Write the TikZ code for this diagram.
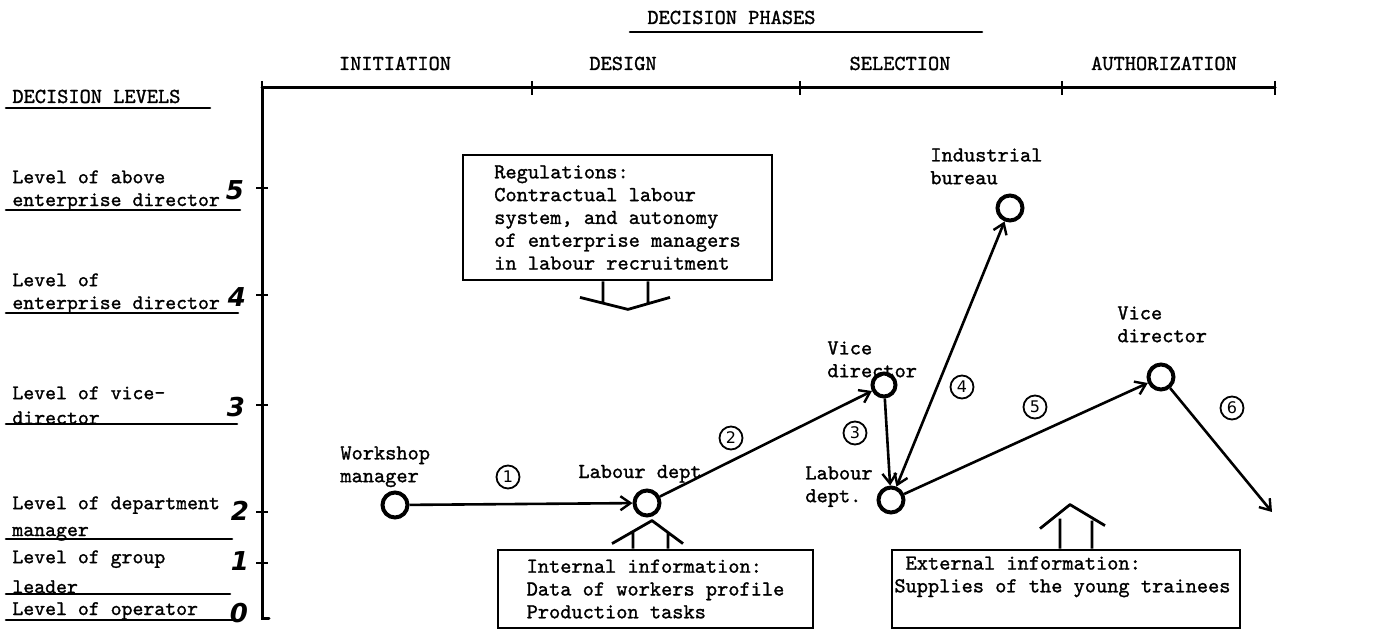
\documentclass[tikz,border=0pt]{standalone}
\usepackage{fontspec}
\usetikzlibrary{arrows.meta,calc}
\newfontfamily\typewfam{Latin Modern Mono}[FakeBold=1.2]
\newfontfamily\handfam{DejaVu Sans}
\newcommand\typew{\typewfam\fontsize{10.67}{11.4}\selectfont}
\newcommand\levelfont{\typewfam\fontsize{10.4}{11.4}\selectfont}

\begin{document}
\begin{tikzpicture}[x=0.5pt,y=-0.5pt,
  txt/.style={font=\typew, inner sep=0pt, align=left},
  lvltxt/.style={font=\levelfont, inner sep=0pt, align=left},
  axisline/.style={line width=1.5pt, line cap=round},
  underl/.style={line width=1.3pt, line cap=round},
  tickmark/.style={line width=1.3pt},
  lvlnum/.style={font=\handfam\bfseries\itshape\fontsize{13}{13}\selectfont, inner sep=0pt},
  actor/.style={circle, draw, line width=2pt, minimum size=12.5pt, inner sep=0pt},
  flow/.style={line width=1.3pt, -{Straight Barb[length=5pt,width=7pt,line width=1.2pt]}},
  twoway/.style={line width=1.3pt, {Straight Barb[length=5pt,width=7pt,line width=1.2pt]}-{Straight Barb[length=5pt,width=7pt,line width=1.2pt]}},
  seq/.style={circle, draw, line width=0.9pt, minimum size=11.5pt, inner sep=0pt, font=\handfam\fontsize{8}{8}\selectfont},
  infobox/.style={draw, line width=1.4pt, inner sep=0pt, font=\typew, align=left},
  hollow/.style={line width=1.4pt, line join=round},
]
\useasboundingbox (0,0) rectangle (1373,631);

% ---------- headings ----------
\node[txt, anchor=base west] (phasetitle) at (647,24) {DECISION PHASES};
\draw[underl] (630,32) -- (982,32);
\node[txt, anchor=base west] (leveltitle) at (12,103) {DECISION LEVELS};
\draw[underl] (6,108) -- (210,108);

% ---------- phase axis ----------
\draw[axisline] (262,88) -- (1275,88);
\foreach \px in {262,532,800,1062,1275}
  \draw[tickmark] (\px,81) -- (\px,95);
\node[txt, anchor=base] (ph1) at (395,70) {INITIATION};
\node[txt, anchor=base] (ph2) at (623,70) {DESIGN};
\node[txt, anchor=base] (ph3) at (900,70) {SELECTION};
\node[txt, anchor=base] (ph4) at (1164,70) {AUTHORIZATION};

% ---------- level axis ----------
\draw[axisline] (262,88) -- (262,618) -- (269,618);
\foreach \ly in {188,295,405,512,563}
  \draw[tickmark] (256,\ly) -- (268,\ly);

\node[lvltxt, anchor=north west] (lv5) at (12,170) {Level of above\\enterprise director};
\draw[underl] (6,210) -- (240,210);
\node[lvlnum] (d5) at (235,190) {5};

\node[lvltxt, anchor=north west] (lv4) at (12,273) {Level of\\enterprise director};
\draw[underl] (6,313) -- (238,313);
\node[lvlnum] (d4) at (237,297) {4};

\node[lvltxt, anchor=north west] (lv3) at (12,386) {Level of vice-\\[1pt]director};
\draw[underl] (6,424) -- (237,424);
\node[lvlnum] (d3) at (236,407) {3};

\node[lvltxt, anchor=north west] (lv2) at (12,496) {Level of department\\[2pt]manager};
\draw[underl] (6,539) -- (232,539);
\node[lvlnum] (d2) at (240,511) {2};

\node[lvltxt, anchor=north west] (lv1) at (12,550) {Level of group\\[3.5pt]leader};
\draw[underl] (6,594) -- (230,594);
\node[lvlnum] (d1) at (240,561) {1};

\node[lvltxt, anchor=base west] (lv0) at (12,615) {Level of operator};
\draw[underl] (6,620) -- (233,620);
\node[lvlnum] (d0) at (239,613) {0};

% ---------- information boxes ----------
\node[infobox, minimum width=154.5pt, minimum height=62.5pt] (reg) at (617.5,217.5)
  {Regulations:\\Contractual labour\\system, and autonomy\\of enterprise managers\\in labour recruitment};
\begin{scope}[shift={(reg.south)}]
  \draw[hollow] (-14.5,0) -- (-14.5,22) (30.5,0) -- (30.5,22)
                (-37.5,16) -- (10.5,28) -- (52.5,16);
\end{scope}

\node[infobox, minimum width=157.5pt, minimum height=39pt] (intb) at (655.5,589)
  {Internal information:\\Data of workers profile\\Production tasks};
\begin{scope}[shift={(intb.north)}]
  \draw[hollow] (-22.5,0) -- (-22.5,-16) (12.5,0) -- (12.5,-16)
                (-43.5,-5) -- (-3.5,-28) -- (27.5,-5);
\end{scope}

\node[infobox, minimum width=174pt, minimum height=39pt] (extb) at (1066,589) {};
\node[txt, anchor=north west] (extt) at (894,556)
  {\phantom{x}External information:\\Supplies of the young trainees};
\begin{scope}[shift={(extb.north)}]
  \draw[hollow] (-6,0) -- (-6,-30) (26,0) -- (26,-28)
                (-26,-20) -- (4,-44) -- (39,-23);
\end{scope}

% ---------- actors ----------
\node[actor] (ws) at (395,505) {};
\node[actor] (lab1) at (647,503) {};
\node[actor, minimum size=11.5pt] (vd1) at (884,385) {};
\node[actor] (lab2) at (891,500) {};
\node[actor] (ib) at (1010,208) {};
\node[actor] (vd2) at (1161,377) {};
\coordinate (out) at (1272,512);

\node[txt, anchor=north west] (wst) at (340,446) {Workshop\\manager};
\node[txt, anchor=base west] (lab1t) at (578,478) {Labour dept};
\node[txt, anchor=north west] (vd1t) at (827,341) {Vice\\director};
\node[txt, anchor=north west] (lab2t) at (805,466) {Labour\\dept.};
\node[txt, anchor=north west] (ibt) at (930,148) {Industrial\\bureau};
\node[txt, anchor=north west] (vd2t) at (1117,306) {Vice\\director};

% ---------- decision steps ----------
\draw[flow] (ws) -- (lab1);
\draw[flow] (lab1) -- (vd1);
\draw[flow] (vd1) -- (lab2);
\draw[twoway] (lab2) -- (ib);
\draw[flow] (lab2) -- (vd2);
\draw[flow] (vd2) -- (out);

\node[seq] (s1) at (508,477) {1};
\node[seq] (s2) at (731,438) {2};
\node[seq] (s3) at (855,433) {3};
\node[seq] (s4) at (962,387) {4};
\node[seq] (s5) at (1035,407) {5};
\node[seq] (s6) at (1232,408) {6};
\end{tikzpicture}
\end{document}
